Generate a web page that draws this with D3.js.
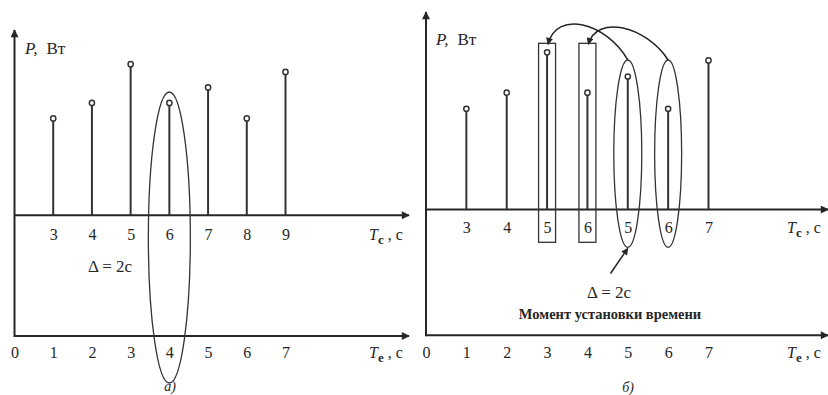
<!DOCTYPE html>
<html>
<head>
<meta charset="utf-8">
<script src="https://cdn.jsdelivr.net/npm/d3@7"></script>
<style>
  html, body { margin: 0; padding: 0; background: #fff; }
  svg { display: block; }
  svg text { font-family: "Liberation Serif", "Tinos", "Times New Roman", "Noto Serif", "DejaVu Serif", serif; }
</style>
</head>
<body>
<svg id="chart" width="828" height="395"></svg>
<script>
// Time axes (seconds)
const teTicks = [0, 1, 2, 3, 4, 5, 6, 7];          // local clock Te
const tcTicksLeft = [3, 4, 5, 6, 7, 8, 9];         // controller clock Tc, panel а)
const powerLeft = [2.5, 2.9, 3.9, 2.9, 3.3, 2.5, 3.7];   // P, W at each Tc
const tcLabelsRight = ["3", "4", "5", "6", "5", "6", "7"]; // Tc after clock reset, panel б)
const powerRight = [2.5, 2.9, 3.9, 2.9, 3.3, 2.5, 3.7];
const shiftSec = 2;                                  // Δ = 2 s

const serif = "'Liberation Serif', Tinos, 'Times New Roman', 'Noto Serif', 'DejaVu Serif', serif";
const ink = "#262626";
const svg = d3.select("#chart");

// arrowhead markers
const defs = svg.append("defs");
defs.append("marker")
  .attr("id", "head").attr("viewBox", "0 0 10 10")
  .attr("refX", 9).attr("refY", 5)
  .attr("markerWidth", 10).attr("markerHeight", 8)
  .attr("markerUnits", "userSpaceOnUse")
  .attr("orient", "auto")
  .append("path").attr("d", "M0,0 L10,5 L0,10 Z").attr("fill", ink);
defs.append("marker")
  .attr("id", "headSmall").attr("viewBox", "0 0 10 10")
  .attr("refX", 9).attr("refY", 5)
  .attr("markerWidth", 8).attr("markerHeight", 7)
  .attr("markerUnits", "userSpaceOnUse")
  .attr("orient", "auto")
  .append("path").attr("d", "M0,0 L10,5 L0,10 Z").attr("fill", ink);

function txt(g, x, y, size) {
  return g.append("text").attr("x", x).attr("y", y)
    .attr("fill", ink).attr("font-family", serif).attr("font-size", size);
}

function axisLabel(g, x, y, sub) {
  const t = txt(g, x, y, 16);
  t.append("tspan").attr("font-style", "italic").text("T");
  t.append("tspan").attr("dy", 4).attr("font-size", 13).attr("font-weight", "bold").text(sub);
  t.append("tspan").attr("dy", -4).text(" , c");
}

function pLabel(g, x, y) {
  const t = txt(g, x, y, 17);
  t.append("tspan").attr("font-style", "italic").text("P,");
  t.append("tspan").attr("dx", 9).text("Вт");
}

function tickAxis(g, scale, y, values, fmt, pad) {
  const ax = d3.axisBottom(scale).tickValues(values).tickSize(0).tickPadding(pad)
    .tickFormat(fmt);
  const a = g.append("g").attr("transform", `translate(0,${y})`).call(ax)
    .attr("font-family", serif).attr("font-size", 16);
  a.select(".domain").remove();
  a.selectAll("text").attr("fill", ink);
  return a;
}

function stems(g, xs, ys, y0) {
  g.selectAll(null).data(xs).join("line")
    .attr("x1", d => d.x).attr("x2", d => d.x)
    .attr("y1", y0).attr("y2", d => ys(d.p) + 2.5)
    .attr("stroke", "#333").attr("stroke-width", 2);
  g.selectAll(null).data(xs).join("circle")
    .attr("cx", d => d.x).attr("cy", d => ys(d.p)).attr("r", 2.6)
    .attr("fill", "#fff").attr("stroke", "#333").attr("stroke-width", 1.5);
}

/* ---------------- panel а) ---------------- */
{
  const g = svg.append("g");
  const xTe = d3.scaleLinear().domain([0, 7]).range([14.5, 285.5]);
  const xTc = d3.scaleLinear().domain([shiftSec, 7 + shiftSec]).range(xTe.range());
  const yAxis = 215.3, yBottom = 336, xRight = 409;
  const yP = d3.scaleLinear().domain([0, 1]).range([yAxis, yAxis - 38.75]);

  const x0 = xTe(0);
  g.append("line").attr("x1", x0).attr("x2", x0).attr("y1", yBottom + 1).attr("y2", 30)
    .attr("stroke", ink).attr("stroke-width", 2).attr("marker-end", "url(#head)");
  g.append("line").attr("x1", x0).attr("x2", xRight).attr("y1", yAxis).attr("y2", yAxis)
    .attr("stroke", ink).attr("stroke-width", 2).attr("marker-end", "url(#head)");
  g.append("line").attr("x1", x0).attr("x2", xRight).attr("y1", yBottom).attr("y2", yBottom)
    .attr("stroke", ink).attr("stroke-width", 2).attr("marker-end", "url(#head)");

  stems(g, tcTicksLeft.map((t, i) => ({ x: xTc(t), p: powerLeft[i] })), yP, yAxis);

  tickAxis(g, xTc, yAxis, tcTicksLeft, d3.format("d"), 13.5);
  tickAxis(g, xTe, yBottom, teTicks, d3.format("d"), 10.5);

  pLabel(g, 25, 54);
  axisLabel(g, 369, 240, "c");
  axisLabel(g, 369, 358, "e");

  txt(g, 110, 272, 17).attr("text-anchor", "middle").text("Δ = 2c");

  // sample taken at Te = 4 s corresponds to Tc = 6 s
  g.append("ellipse").attr("cx", xTe(4)).attr("cy", 237.5).attr("rx", 21).attr("ry", 145.5)
    .attr("fill", "none").attr("stroke", "#333").attr("stroke-width", 1.3);

  txt(g, 170, 391, 14).attr("text-anchor", "middle").attr("font-style", "italic").text("а)");
}

/* ---------------- panel б) ---------------- */
{
  const g = svg.append("g");
  const xTe = d3.scaleLinear().domain([0, 7]).range([426, 708.5]);
  const yAxis = 209.5, yBottom = 335.3, xRight = 828;
  const yP = d3.scaleLinear().domain([0, 1]).range([yAxis, yAxis - 40.3]);

  const x0 = xTe(0);
  g.append("line").attr("x1", x0).attr("x2", x0).attr("y1", yBottom + 1).attr("y2", 12)
    .attr("stroke", ink).attr("stroke-width", 2).attr("marker-end", "url(#head)");
  g.append("line").attr("x1", x0).attr("x2", xRight).attr("y1", yAxis).attr("y2", yAxis)
    .attr("stroke", ink).attr("stroke-width", 2).attr("marker-end", "url(#head)");
  g.append("line").attr("x1", x0).attr("x2", xRight).attr("y1", yBottom).attr("y2", yBottom)
    .attr("stroke", ink).attr("stroke-width", 2).attr("marker-end", "url(#head)");

  const idx = d3.range(1, tcLabelsRight.length + 1);
  stems(g, idx.map((k, i) => ({ x: xTe(k), p: powerRight[i] })), yP, yAxis);

  tickAxis(g, xTe, yAxis, idx, k => tcLabelsRight[k - 1], 12);
  tickAxis(g, xTe, yBottom, teTicks, d3.format("d"), 11);

  pLabel(g, 436, 45);
  axisLabel(g, 787, 233, "c");
  axisLabel(g, 787, 358, "e");

  // samples 5 and 6 before the clock was set back
  const boxTop = 43.3, boxBottom = 242.3, boxHalf = 8.5;
  [3, 4].forEach(k => {
    g.append("rect").attr("x", xTe(k) - boxHalf).attr("y", boxTop)
      .attr("width", boxHalf * 2).attr("height", boxBottom - boxTop)
      .attr("fill", "none").attr("stroke", "#333").attr("stroke-width", 1.3);
  });

  // the same Tc values repeated after the reset
  const eTop = 60, eBottom = 247.3;
  const ellipses = [{ k: 5, rx: 14 }, { k: 6, rx: 13.5 }];
  ellipses.forEach(e => {
    g.append("ellipse").attr("cx", xTe(e.k)).attr("cy", (eTop + eBottom) / 2)
      .attr("rx", e.rx).attr("ry", (eBottom - eTop) / 2)
      .attr("fill", "none").attr("stroke", "#333").attr("stroke-width", 1.3);
  });

  // curved arrows from repeated samples back to the originals
  [[5, 3, 24], [6, 4, 28]].forEach(([from, to, peak]) => {
    const sx = xTe(from), sy = eTop, tx = xTe(to) + 1, ty = boxTop + 1;
    const p = d3.path();
    p.moveTo(sx, sy);
    p.bezierCurveTo(sx - 22, peak - 2, tx + 8, peak - 14, tx, ty);
    g.append("path").attr("d", p.toString()).attr("fill", "none")
      .attr("stroke", ink).attr("stroke-width", 1.5).attr("marker-end", "url(#headSmall)");
  });

  // pointer to the moment the clock was set
  g.append("line").attr("x1", 610.5).attr("y1", 273.5).attr("x2", xTe(5)).attr("y2", eBottom + 1)
    .attr("stroke", ink).attr("stroke-width", 1.5).attr("marker-end", "url(#headSmall)");

  txt(g, 609, 298, 17).attr("text-anchor", "middle").text("Δ = 2c");
  txt(g, 610, 319, 14.5).attr("text-anchor", "middle").attr("font-weight", "bold")
    .text("Момент установки времени");

  txt(g, 628, 392, 14).attr("text-anchor", "middle").attr("font-style", "italic").text("б)");
}
</script>
</body>
</html>
